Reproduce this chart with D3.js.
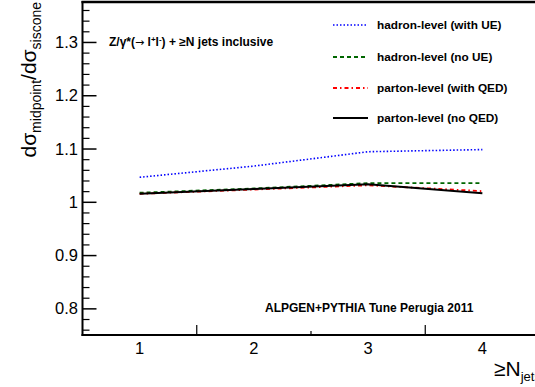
<!DOCTYPE html>
<html>
<head>
<meta charset="utf-8">
<script src="https://cdn.jsdelivr.net/npm/d3@7"></script>
<style>
  body { margin: 0; background: #fff; }
  text { font-family: "Liberation Sans", Arial, sans-serif; }
</style>
</head>
<body>
<div id="chart"></div>
<script>
// N jets (inclusive)
var njets = [1, 2, 3, 4];
var hadron_ue = [1.046, 1.067, 1.094, 1.098];
var hadron_noue = [1.017, 1.025, 1.035, 1.035];
var parton_qed = [1.015, 1.023, 1.031, 1.020];
var parton_noqed = [1.015, 1.024, 1.033, 1.016];
var y_ticks = [0.8, 0.9, 1, 1.1, 1.2, 1.3];
var x_ticks = [1, 2, 3, 4];

var series = [
    { name: 'hadron-level (with UE)', values: hadron_ue, color: '#0000ff', dash: '1.5,2', width: 1.6 },
    { name: 'hadron-level (no UE)', values: hadron_noue, color: '#006600', dash: '4,3', width: 1.8 },
    { name: 'parton-level (with QED)', values: parton_qed, color: '#ff0000', dash: '4,3,1.5,3', width: 1.8 },
    { name: 'parton-level (no QED)', values: parton_noqed, color: '#000000', dash: null, width: 2 }
];

var chart_width = 535;
var chart_height = 387;

var svg = d3.select('#chart')
    .append('svg')
    .attr('width', chart_width)
    .attr('height', chart_height);

var x_scale = d3.scaleLinear()
    .domain([0.5, 4.5])
    .range([82.5, 539.5]);

var y_scale = d3.scaleLinear()
    .domain([0.75, 1.375])
    .range([335, 2]);

// data lines
var line = d3.line()
    .x(function (d, i) { return x_scale(njets[i]); })
    .y(function (d) { return y_scale(d); });

svg.selectAll('path.series')
    .data(series)
    .enter()
    .append('path')
    .attr('class', 'series')
    .attr('d', function (s) { return line(s.values); })
    .attr('fill', 'none')
    .attr('stroke', function (s) { return s.color; })
    .attr('stroke-width', function (s) { return s.width; })
    .attr('stroke-dasharray', function (s) { return s.dash; });

// frame
svg.append('line')
    .attr('x1', x_scale(0.5)).attr('x2', x_scale(0.5))
    .attr('y1', y_scale(1.375) - 1).attr('y2', y_scale(0.75) + 1)
    .attr('stroke', '#000').attr('stroke-width', 2);
svg.append('line')
    .attr('x1', x_scale(0.5) - 1).attr('x2', chart_width)
    .attr('y1', y_scale(0.75)).attr('y2', y_scale(0.75))
    .attr('stroke', '#000').attr('stroke-width', 2);
svg.append('line')
    .attr('x1', x_scale(0.5) - 1).attr('x2', chart_width)
    .attr('y1', y_scale(1.375)).attr('y2', y_scale(1.375))
    .attr('stroke', '#000').attr('stroke-width', 2.5);

// y axis
var y_axis = d3.axisRight(y_scale)
    .tickValues(y_ticks)
    .tickSize(14)
    .tickFormat('');
svg.append('g')
    .attr('transform', 'translate(' + x_scale(0.5) + ',0)')
    .call(y_axis)
    .call(function (g) { g.select('.domain').remove(); })
    .selectAll('line').attr('stroke-width', 1.5);

var y_minor = d3.range(38, 69).map(function (v) { return v / 50; })
    .filter(function (v) { return Math.abs(v * 10 - Math.round(v * 10)) > 1e-6; });
svg.append('g')
    .attr('transform', 'translate(' + x_scale(0.5) + ',0)')
    .call(d3.axisRight(y_scale).tickValues(y_minor).tickSize(7).tickFormat(''))
    .call(function (g) { g.select('.domain').remove(); })
    .selectAll('line').attr('stroke-width', 1.2);

svg.append('g')
    .selectAll('text')
    .data(y_ticks)
    .enter()
    .append('text')
    .attr('x', 78)
    .attr('y', function (d) { return y_scale(d) + 6; })
    .attr('text-anchor', 'end')
    .attr('font-size', 16.5)
    .text(function (d) { return d3.format('')(d); });

// x axis
var x_edges = [1.5, 2.5, 3.5];
svg.append('g')
    .selectAll('line')
    .data(x_edges)
    .enter()
    .append('line')
    .attr('x1', function (d) { return x_scale(d); })
    .attr('x2', function (d) { return x_scale(d); })
    .attr('y1', y_scale(0.75))
    .attr('y2', function (d) { return y_scale(0.75) - (d === 2.5 ? 4 : 10); })
    .attr('stroke', '#000')
    .attr('stroke-width', 1.2);

svg.append('g')
    .selectAll('text')
    .data(x_ticks)
    .enter()
    .append('text')
    .attr('x', function (d) { return x_scale(d); })
    .attr('y', 354)
    .attr('text-anchor', 'middle')
    .attr('font-size', 16.5)
    .text(function (d) { return d; });

// axis titles
var xt = svg.append('text')
    .attr('x', 494)
    .attr('y', 376)
    .attr('font-size', 21);
xt.append('tspan').text('\u2265N');
xt.append('tspan').attr('font-size', 13).attr('dy', 5).text('jets');

var yt = svg.append('text')
    .attr('transform', 'translate(36,2) rotate(-90)')
    .attr('text-anchor', 'end')
    .attr('font-size', 21);
yt.append('tspan').text('d\u03c3');
yt.append('tspan').attr('font-size', 14).attr('dy', 5).text('midpoint');
yt.append('tspan').attr('dy', -5).text('/d\u03c3');
yt.append('tspan').attr('font-size', 14).attr('dy', 5).text('siscone');

// annotations
var ann = svg.append('text')
    .attr('x', 109)
    .attr('y', 46)
    .attr('font-size', 12)
    .attr('font-weight', 'bold');
ann.append('tspan').text('Z/\u03b3*(');
ann.append('tspan').attr('font-weight', 'normal').attr('font-family', 'DejaVu Sans').attr('font-size', 11).text('\u2192');
ann.append('tspan').text(' l');
ann.append('tspan').attr('font-size', 8).attr('dy', -4).text('+');
ann.append('tspan').attr('dy', 4).text('l');
ann.append('tspan').attr('font-size', 8).attr('dy', -4).text('-');
ann.append('tspan').attr('dy', 4).text(') + \u2265N jets inclusive');

svg.append('text')
    .attr('x', 265)
    .attr('y', 312)
    .attr('font-size', 12)
    .attr('font-weight', 'bold')
    .text('ALPGEN+PYTHIA Tune Perugia 2011');

// legend
var legend = svg.selectAll('g.legend')
    .data(series)
    .enter()
    .append('g')
    .attr('class', 'legend')
    .attr('transform', function (d, i) { return 'translate(333,' + [25, 57, 88, 118][i] + ')'; });

legend.append('line')
    .attr('x1', 0).attr('x2', 35)
    .attr('y1', 0).attr('y2', 0)
    .attr('stroke', function (s) { return s.color; })
    .attr('stroke-width', function (s) { return s.width; })
    .attr('stroke-dasharray', function (s) { return s.dash; });

legend.append('text')
    .attr('x', 44)
    .attr('y', 4)
    .attr('font-size', 11.8)
    .attr('font-weight', 'bold')
    .text(function (s) { return s.name; });
</script>
</body>
</html>
